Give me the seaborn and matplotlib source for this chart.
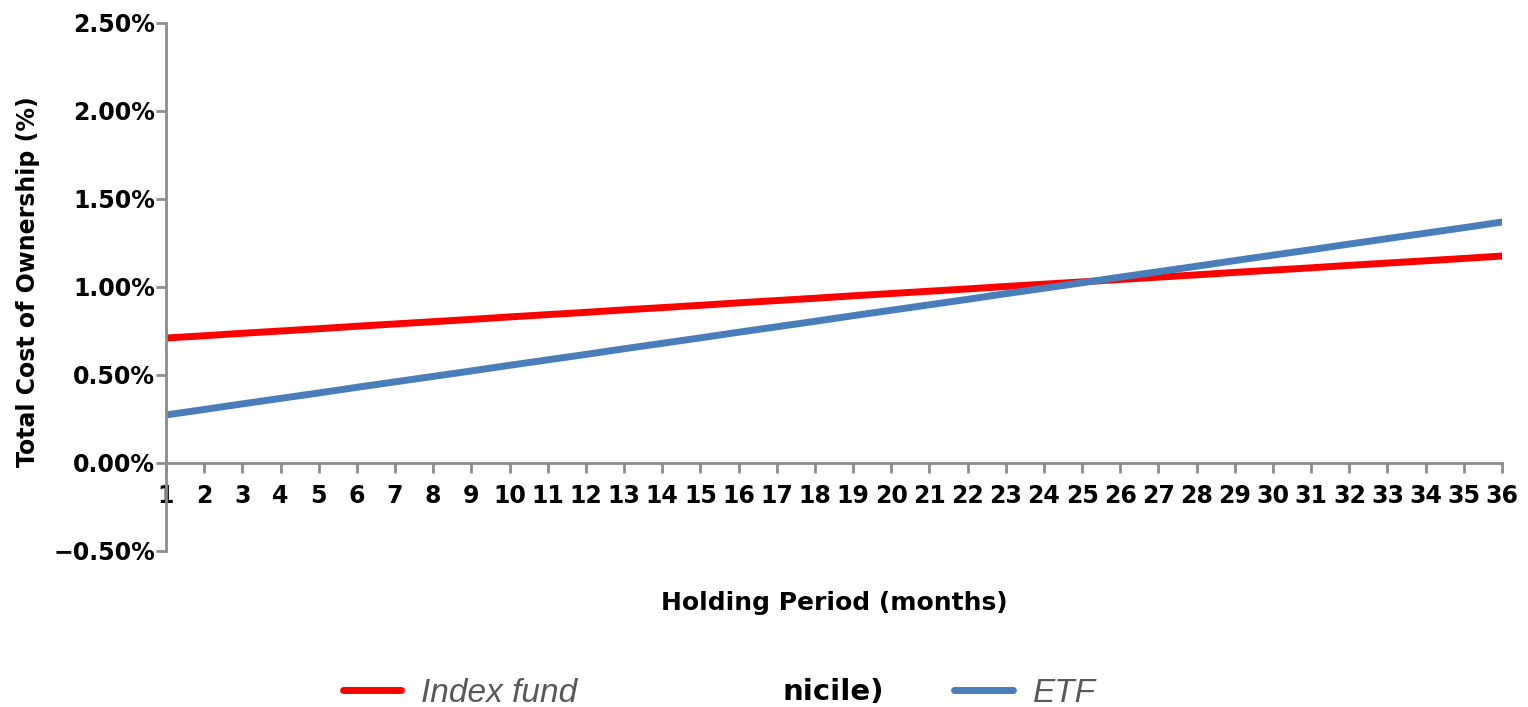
import pandas as pd
import matplotlib
matplotlib.use("Agg")
import matplotlib.pyplot as plt
import seaborn as sns

# holding period in months
months = list(range(1, 37))

# total cost of ownership (%)
index_fund = [0.710, 0.723, 0.737, 0.750, 0.763, 0.777, 0.790, 0.803, 0.816, 0.830,
              0.843, 0.856, 0.870, 0.883, 0.896, 0.910, 0.923, 0.936, 0.950, 0.963,
              0.976, 0.989, 1.003, 1.016, 1.029, 1.043, 1.056, 1.069, 1.083, 1.096,
              1.109, 1.123, 1.136, 1.149, 1.162, 1.176]
etf = [0.273, 0.304, 0.336, 0.367, 0.398, 0.430, 0.461, 0.492, 0.523, 0.555,
       0.586, 0.617, 0.649, 0.680, 0.711, 0.743, 0.774, 0.805, 0.837, 0.868,
       0.899, 0.930, 0.962, 0.993, 1.024, 1.056, 1.087, 1.118, 1.150, 1.181,
       1.212, 1.244, 1.275, 1.306, 1.337, 1.369]

series_names = ["Index fund", "ETF"]
y_ticks = [-0.5, 0.0, 0.5, 1.0, 1.5, 2.0, 2.5]

df = pd.DataFrame({
    "month": months * 2,
    "cost": index_fund + etf,
    "series": [series_names[0]] * len(months) + [series_names[1]] * len(months),
})

sns.set_style("white")
plt.rcParams['font.family'] = ['DejaVu Sans']
plt.rcParams['text.color'] = 'black'
plt.rcParams['axes.labelcolor'] = 'black'

fig = plt.figure(figsize=(15.28, 7.07), dpi=100)
ax = fig.add_axes([166 / 1528, 1 - 551 / 707, (1502 - 166) / 1528, (551 - 23) / 707])

sns.lineplot(data=df, x="month", y="cost", hue="series",
             palette={"Index fund": "#ff0000", "ETF": "#4a7ebb"},
             linewidth=5, ax=ax)

ax.set_xlim(1, 36)
ax.set_ylim(-0.5, 2.5)
ax.set_xticks(months)
ax.set_xticklabels([str(m) for m in months])
ax.set_yticks(y_ticks)
ax.set_yticklabels([f"{v:.2f}%".replace("-", "\u2212") for v in y_ticks])

gray = "#8c8c8c"
for side in ["top", "right"]:
    ax.spines[side].set_visible(False)
ax.spines["bottom"].set_position(("data", 0))
for side in ["left", "bottom"]:
    ax.spines[side].set_color(gray)
    ax.spines[side].set_linewidth(2)
ax.tick_params(axis="both", colors=gray, labelcolor="black", length=7, width=2,
               labelsize=17, bottom=True, left=True)
ax.tick_params(axis="x", direction="out", pad=8)
ax.tick_params(axis="y", pad=1)
for lbl in ax.get_xticklabels() + ax.get_yticklabels():
    lbl.set_fontweight("bold")

ax.set_xlabel("Holding Period (months)", fontsize=18, fontweight="bold")
ax.xaxis.set_label_coords(0.5, -0.075)
ax.set_ylabel("Total Cost of Ownership (%)", fontsize=17, fontweight="bold")
ax.yaxis.set_label_coords(-0.094, 0.51)

sns.move_legend(ax, "center left", bbox_to_anchor=(343 / 1528, 1 - 693 / 707),
                bbox_transform=fig.transFigure, ncol=2, frameon=False, title=None,
                fontsize=24, handlelength=1.75, handletextpad=0.6,
                columnspacing=11.3, borderpad=0, borderaxespad=0)
leg = ax.get_legend()
for t in leg.get_texts():
    t.set_fontstyle("italic")
    t.set_color("#595959")
    t.set_family("Liberation Sans")
for h in leg.legend_handles:
    h.set_linewidth(5)

fig.text(782 / 1528, 1 - 692 / 707, "nicile)", fontsize=21, fontweight="bold",
         va="center", ha="left")

fig.savefig("out.png", dpi=100)
